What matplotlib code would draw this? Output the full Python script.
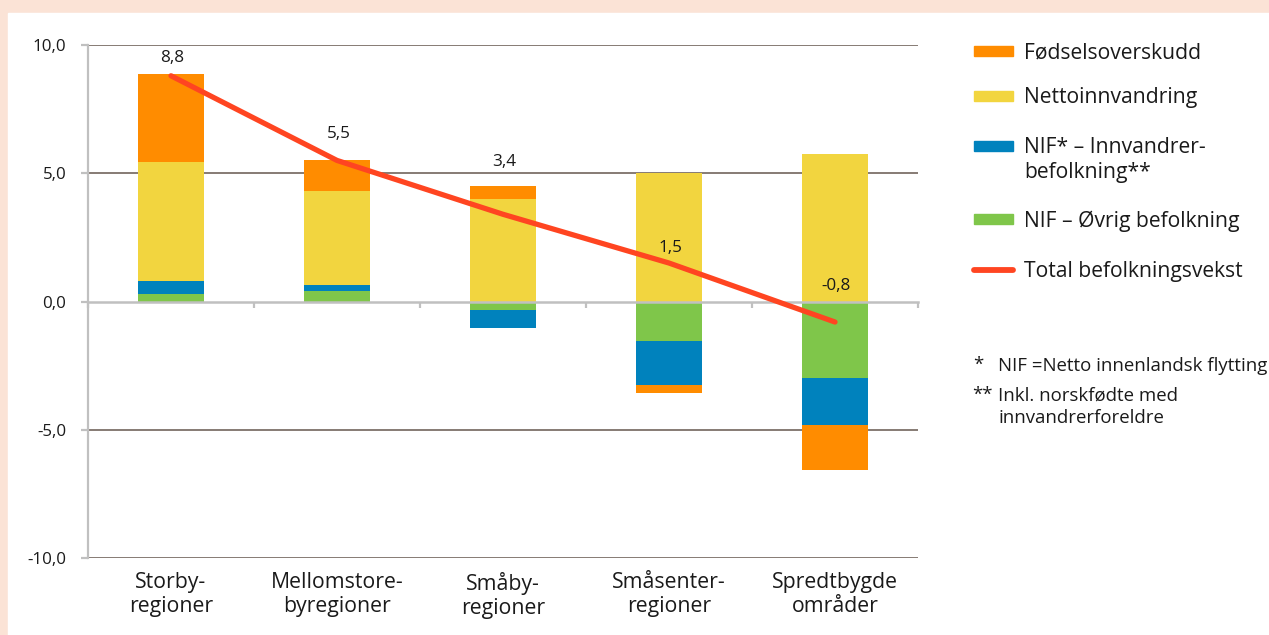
import matplotlib.pyplot as plt
import numpy as np
from matplotlib.patches import Rectangle
from matplotlib.lines import Line2D

plt.rcParams['font.family'] = ['Open Sans', 'DejaVu Sans']

# data
categories = ["Storby-\nregioner", "Mellomstore-\nbyregioner", "Småby-\nregioner",
              "Småsenter-\nregioner", "Spredtbygde\nområder"]
fodselsoverskudd = [3.4, 1.2, 0.5, -0.3, -1.75]
nettoinnvandring = [4.65, 3.65, 4.0, 5.0, 5.75]
nif_innvandrer = [0.5, 0.25, -0.7, -1.7, -1.8]
nif_ovrig = [0.3, 0.4, -0.35, -1.55, -3.0]
total = [8.8, 5.5, 3.4, 1.5, -0.8]
total_labels = ["8,8", "5,5", "3,4", "1,5", "-0,8"]
label_offsets = [13, 19, 38, 11, 26]  # points above the line point

c_orange = "#ff8c00"
c_yellow = "#f2d53f"
c_blue = "#0082bd"
c_green = "#7fc64a"
c_line = "#ff4521"
c_grid = "#66574e"
c_axis = "#c0c0c0"
c_text = "#1a1a1a"

W, H = 1269, 635
fig = plt.figure(figsize=(12.69, 6.35), dpi=100)
fig.patch.set_facecolor("#fbe3d6")
fig.patches.append(Rectangle((8 / W, 0), 1 - 8 / W, 1 - 13 / H,
                             transform=fig.transFigure, color="white", zorder=-5))

ax = fig.add_axes([88 / W, 1 - 558 / H, (918 - 88) / W, (558 - 45) / H])
ax.set_facecolor("none")

x = np.arange(len(categories))
pos_base = np.zeros(len(x))
neg_base = np.zeros(len(x))
for vals, col in [(nif_ovrig, c_green), (nif_innvandrer, c_blue),
                  (nettoinnvandring, c_yellow), (fodselsoverskudd, c_orange)]:
    v = np.array(vals)
    bottom = np.where(v >= 0, pos_base, neg_base)
    ax.bar(x, v, 0.4, bottom=bottom, color=col, linewidth=0, zorder=2)
    pos_base += np.clip(v, 0, None)
    neg_base += np.clip(v, None, 0)

ax.plot(x, total, color=c_line, lw=3.8, solid_capstyle="round", zorder=4)
for xi, yi, lab, off in zip(x, total, total_labels, label_offsets):
    ax.annotate(lab, (xi, yi), xytext=(1, off), textcoords="offset points",
                ha="center", va="center", fontsize=12.3, color=c_text, zorder=5)

ax.set_xlim(-0.5, len(x) - 0.5)
ax.set_ylim(-10, 10)
yt = [-10, -5, 0, 5, 10]
ax.set_yticks(yt)
ax.set_yticklabels([f"{v:.1f}".replace(".", ",") for v in yt])
for v in yt:
    if v != 0:
        ax.axhline(v, color=c_grid, lw=1.1, zorder=1)

for s in ["top", "right"]:
    ax.spines[s].set_visible(False)
ax.spines["left"].set_color(c_axis)
ax.spines["left"].set_linewidth(1.6)
ax.spines["bottom"].set_position(("data", 0))
ax.spines["bottom"].set_color(c_axis)
ax.spines["bottom"].set_linewidth(1.8)
ax.spines["bottom"].set_zorder(3)

ax.set_xticks(np.arange(-0.5, len(x), 1.0))
ax.set_xticklabels([])
ax.tick_params(axis="x", length=4, width=1.6, color=c_axis, direction="out")
ax.tick_params(axis="y", length=5, width=1.6, color=c_axis, pad=10.5,
               labelsize=12.2, labelcolor=c_text)

for xi, name in zip(x, categories):
    ax.annotate(name, (xi, -10), xytext=(0, -10), textcoords="offset points",
                ha="center", va="top", fontsize=15.3, color=c_text, linespacing=1.2)

# legend, drawn by hand to keep the handle on the first text line
legend_items = [("Fødselsoverskudd", c_orange, "patch"),
                ("Nettoinnvandring", c_yellow, "patch"),
                ("NIF* – Innvandrer-\nbefolkning**", c_blue, "patch"),
                ("NIF – Øvrig befolkning", c_green, "patch"),
                ("Total befolkningsvekst", c_line, "line")]
rows_px = [51, 96, 146, 219, 270]
for (lab, col, kind), ry in zip(legend_items, rows_px):
    yf = 1 - ry / H
    if kind == "patch":
        fig.patches.append(Rectangle((974 / W, yf - 5 / H), 39 / W, 10 / H,
                                     transform=fig.transFigure, color=col, zorder=3))
    else:
        fig.lines.append(Line2D([974 / W, 1013 / W], [yf, yf], transform=fig.transFigure,
                                color=col, lw=4.2, solid_capstyle="round", zorder=3))
    for k, part in enumerate(lab.split("\n")):
        fig.text(1024 / W, 1 - (ry + 2 + 24 * k) / H, part, ha="left", va="center",
                 fontsize=15.2, color=c_text)

fs_note = 13.4
fig.text(973 / W, 1 - 365 / H, "*", ha="left", va="center", fontsize=fs_note, color=c_text)
fig.text(998 / W, 1 - 366 / H, "NIF =Netto innenlandsk flytting", ha="left", va="center",
         fontsize=fs_note, color=c_text)
fig.text(972 / W, 1 - 395 / H, "**", ha="left", va="center", fontsize=fs_note, color=c_text)
fig.text(998 / W, 1 - 396 / H, "Inkl. norskfødte med", ha="left", va="center",
         fontsize=fs_note, color=c_text)
fig.text(998 / W, 1 - 418 / H, "innvandrerforeldre", ha="left", va="center",
         fontsize=fs_note, color=c_text)

fig.savefig("out.png", dpi=100, facecolor=fig.get_facecolor())
